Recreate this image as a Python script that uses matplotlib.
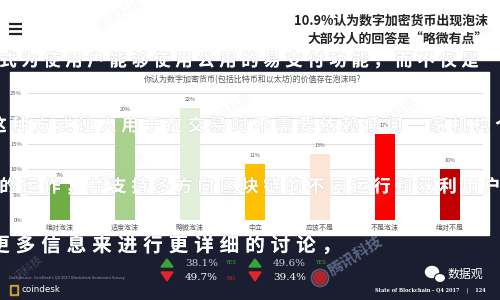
import matplotlib
matplotlib.use("Agg")
import matplotlib.pyplot as plt
import matplotlib.patheffects as pe
from matplotlib.patches import Rectangle, Polygon, Ellipse, Circle

plt.rcParams['font.family'] = ['Noto Sans CJK SC', 'DejaVu Sans']

# chart data
categories = ['绝对泡沫', '适度泡沫', '略微泡沫', '中立', '应该不是', '不是泡沫', '绝对不是']
values = [7, 20, 22, 11, 13, 17, 10]
bar_colors = ['#70ad47', '#a9d18e', '#e2f0d9', '#ffc000', '#fbe5d6', '#ff0000', '#c00000']
yticks = [0, 5, 10, 15, 20, 25]

title_lines = ['10.9%认为数字加密货币出现泡沫', '大部分人的回答是“略微有点”']
chart_title = '你认为数字加密货币(包括比特币和以太坊)的价值存在泡沫吗?'

# overlay text rows (article text drawn over the screenshot)
row1 = '式为使用户能够使用公用的易支付功能，而不仅是'
row2 = '这种方式让人用于在交易时不需要依赖任何一家机构个'
row3 = '的运作，并支持多方向区块链的不同运行和获利用户'
row4 = '更多信息来进行更详细的讨论，'

# survey footer numbers
yes_vals = ['38.1%', '49.6%']
no_vals = ['49.7%', '39.4%']

navy = '#1a1e30'

fig = plt.figure(figsize=(5, 3), dpi=100)

# background layer in pixel coords
bg = fig.add_axes([0, 0, 1, 1])
bg.set_xlim(0, 500)
bg.set_ylim(300, 0)
bg.axis('off')
bg.add_patch(Rectangle((0, 0), 500, 300, color=navy))
bg.add_patch(Rectangle((0, 0), 500, 60, color='white'))
bg.add_patch(Rectangle((10, 72), 479, 163, color='white'))

# hamburger icon
for yy in (24, 29, 34):
    bg.plot([9, 22], [yy, yy], color='#222222', lw=1.6, solid_capstyle='butt')

# headline
bg.text(488, 21, title_lines[0], ha='right', va='center', fontsize=9.3,
        fontweight='bold', color='#222222')
bg.text(488, 40, title_lines[1], ha='right', va='center', fontsize=9.3,
        fontweight='bold', color='#222222')

bg.text(252, 80, chart_title, ha='center', va='center', fontsize=5.8, color='#595959')

# bar chart
ax = fig.add_axes([27.5 / 500, 80 / 300, 455 / 500, 127 / 300])
ax.patch.set_alpha(0)
x = range(len(categories))
ax.bar(x, values, width=0.31, color=bar_colors, zorder=3)
for i, v in enumerate(values):
    ax.text(i, v + 1.7, f'{v}%', ha='center', va='center', fontsize=3.8, color='#595959')
ax.set_xlim(-0.5, len(categories) - 0.5)
ax.set_ylim(0, 25)
ax.set_yticks(yticks)
ax.set_yticklabels([f'{t}%' for t in yticks])
ax.set_xticks(list(x))
ax.set_xticklabels(categories)
ax.grid(axis='y', color='#d9d9d9', lw=0.6, zorder=0)
ax.tick_params(length=0, colors='#595959')
ax.tick_params(axis='y', labelsize=4.2, pad=4)
ax.tick_params(axis='x', labelsize=5, pad=3)
for s in ax.spines.values():
    s.set_visible(False)

# overlay layer
ov = fig.add_axes([0, 0, 1, 1], zorder=10)
ov.set_xlim(0, 500)
ov.set_ylim(300, 0)
ov.axis('off')
ov.patch.set_alpha(0)

stroke = [pe.withStroke(linewidth=0.8, foreground=(0.2, 0.2, 0.25, 0.13))]


def spaced(s, x0, y, step, size):
    for i, ch in enumerate(s):
        ov.text(x0 + i * step, y, ch, ha='center', va='center', fontsize=size,
                fontweight='bold', color='white', path_effects=stroke)


spaced(row1, 8, 61, 22, 12.5)
spaced(row2, -2, 126, 22, 12.5)
spaced(row3, 8, 187, 22, 12.5)
spaced(row4, 0, 246, 25.5, 14)

# footer: source + coindesk
ov.text(9, 278, "Data Source: CoinDesk's Q4 2017 Blockchain Sentiment Survey",
        fontsize=2.6, color='#9a9eab', va='center', family='DejaVu Sans')
ov.add_patch(Rectangle((10, 285), 8, 10, color='#c9a227'))
ov.add_patch(Rectangle((12, 287), 4, 6, color=navy))
ov.text(22, 290, 'coindesk', fontsize=6.3, color='white', va='center', family='DejaVu Sans')

# yes / no blocks
for k, gx in enumerate((167, 255)):
    ov.add_patch(Polygon([[gx - 6, 267], [gx + 6, 267], [gx, 259]], color='#3aa63a'))
    ov.add_patch(Polygon([[gx - 6, 272], [gx + 6, 272], [gx, 281]], color='#e0262a'))
    ov.text(gx + 18, 263, yes_vals[k], fontsize=7.5, color='#c9ccd6', va='center',
            family='DejaVu Serif')
    ov.text(gx + 18, 277, no_vals[k], fontsize=7.5, color='white', va='center',
            family='DejaVu Serif')
ov.text(225, 263, 'YES', fontsize=3.8, color='#3aa63a', va='center', family='DejaVu Serif')
ov.text(227, 278, 'NO', fontsize=3.8, color='#e0262a', va='center', family='DejaVu Serif')
ov.text(315, 263, 'YES', fontsize=3.8, color='#3aa63a', va='center', family='DejaVu Serif')
ov.add_patch(Circle((320, 278), 6.5, color='#c8272c', alpha=0.85))
ov.add_patch(Circle((320, 278), 8.5, fill=False, ec='#7d8fb3', lw=1.2, alpha=0.6))

# watermark
ov.text(355, 255, '腾讯科技', rotation=32, fontsize=11, fontweight='bold',
        color='#8fa3cc', alpha=0.55, ha='center', va='center')
ov.text(28, 268, '讯科技', rotation=40, fontsize=8, color='#8fa3cc', alpha=0.3,
        ha='center', va='center')
for wx, wy in ((120, 15), (230, 110), (395, 115), (125, 170), (395, 190), (245, 185), (470, 40)):
    ov.text(wx, wy, '腾讯科技', rotation=32, fontsize=9, color='#b0b8c8', alpha=0.1,
            ha='center', va='center')

# wechat brand
ov.add_patch(Ellipse((432, 272), 13, 11, color='white'))
ov.add_patch(Ellipse((440, 278), 11, 9, color='white', ec=navy, lw=0.8))
ov.text(447, 274, '数据观', fontsize=8.6, color='white', va='center')
ov.text(375, 290, 'State of Blockchain - Q4 2017    |    124', fontsize=3.6,
        fontweight='bold', color='white', va='center', family='DejaVu Serif')

fig.savefig('out.png', dpi=100)
